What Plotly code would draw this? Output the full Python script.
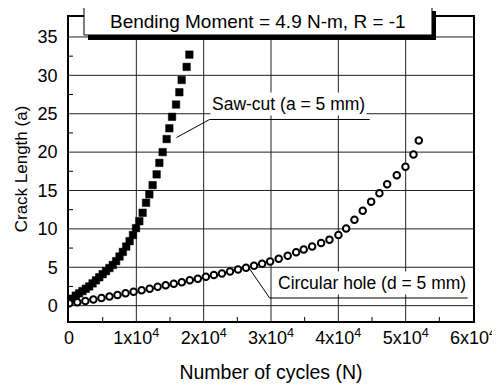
import plotly.graph_objects as go

# ---- data ----
saw_N = [0, 500, 1000, 1500, 2000, 2500, 3000, 3500, 4000, 4500, 5000, 5500, 6000,
         6500, 7000, 7500, 8000, 8500, 9000, 9500, 9955, 10446, 10936, 11441, 11932,
         12422, 13016, 13418, 13908, 14502, 14903, 15305, 15899, 16390, 16731, 17474, 17875]
saw_a = [0.5, 0.9, 1.3, 1.6, 1.9, 2.2, 2.5, 2.9, 3.3, 3.7, 4.1, 4.5, 4.9,
         5.3, 5.8, 6.4, 7.0, 7.7, 8.4, 9.2, 10.1, 11.0, 12.1, 13.4, 14.5,
         15.7, 17.1, 18.6, 20.0, 21.7, 23.1, 24.6, 26.2, 27.8, 29.4, 31.1, 32.7]

hole_N = [45, 1240, 2430, 3620, 4820, 6010, 7200, 8400, 9590, 10780, 11980, 13170,
          14360, 15560, 16750, 17940, 19130, 20330, 21520, 22710, 23910, 25100, 26290,
          27480, 28680, 29870, 31144, 32481, 33730, 34859, 36107, 37444, 38678, 40015,
          41159, 42392, 43626, 44874, 46100, 47250, 48678, 49970, 51159, 51947]
hole_a = [0.3, 0.45, 0.6, 0.8, 1.0, 1.2, 1.4, 1.6, 1.8, 2.0, 2.2, 2.45,
          2.65, 2.85, 3.05, 3.3, 3.5, 3.75, 4.0, 4.2, 4.45, 4.7, 4.95,
          5.2, 5.45, 5.75, 6.1, 6.5, 6.95, 7.3, 7.7, 8.15, 8.6, 9.2,
          10.05, 11.2, 12.35, 13.55, 14.65, 15.8, 17.0, 18.1, 19.7, 21.5]

x_tickvals = [0, 10000, 20000, 30000, 40000, 50000, 60000]
x_ticktext = ["0", "1x10<sup>4</sup>", "2x10<sup>4</sup>", "3x10<sup>4</sup>",
              "4x10<sup>4</sup>", "5x10<sup>4</sup>", "6x10<sup>4</sup>"]
y_tickvals = [0, 5, 10, 15, 20, 25, 30, 35]
x_minor = [5000, 15000, 25000, 35000, 45000, 55000]
y_minor = [2.5, 7.5, 12.5, 17.5, 22.5, 27.5, 32.5]

title_text = "Bending Moment = 4.9 N-m, R = -1"
saw_label = "Saw-cut (a = 5 mm)"
hole_label = "Circular hole (d = 5 mm)"

FONT = "Liberation Sans, Arial, sans-serif"
X_RANGE = [0, 60000]
Y_RANGE = [-2, 37.6]
PLOT_W, PLOT_H = 404, 304
MINOR_LEN = 4

fig = go.Figure()

# grid lines as a line trace behind the markers, built from the tick values
grid_x, grid_y = [], []
for v in x_tickvals[1:-1]:
    grid_x += [v, v, None]
    grid_y += [Y_RANGE[0], Y_RANGE[1], None]
for v in y_tickvals:
    grid_x += [X_RANGE[0], X_RANGE[1], None]
    grid_y += [v, v, None]
fig.add_trace(go.Scatter(
    x=grid_x, y=grid_y, mode="lines", line=dict(color="#222222", width=1),
    hoverinfo="skip", showlegend=False, connectgaps=False))

fig.add_trace(go.Scatter(
    x=saw_N, y=saw_a, mode="markers", name="Saw-cut",
    marker=dict(symbol="square", size=7.5, color="black",
                line=dict(color="black", width=0.5)),
    showlegend=False))
fig.add_trace(go.Scatter(
    x=hole_N, y=hole_a, mode="markers", name="Circular hole",
    marker=dict(symbol="circle", size=6.5, color="white",
                line=dict(color="black", width=2)),
    showlegend=False))

# minor ticks (inside) on bottom and left axes
for v in x_minor:
    fig.add_shape(type="line", xref="x", yref="paper", x0=v, x1=v,
                  y0=0, y1=MINOR_LEN / PLOT_H, line=dict(color="black", width=1))
for v in y_minor:
    fig.add_shape(type="line", xref="paper", yref="y", x0=0, x1=MINOR_LEN / PLOT_W,
                  y0=v, y1=v, line=dict(color="black", width=1))

# leader lines
fig.add_shape(type="line", xref="x", yref="y", x0=15970, y0=21.9, x1=20880, y1=24.25,
              line=dict(color="black", width=1), layer="above")
fig.add_shape(type="line", xref="x", yref="y", x0=20880, y0=24.25, x1=44650, y1=24.25,
              line=dict(color="black", width=1), layer="above")
fig.add_shape(type="line", xref="x", yref="y", x0=26570, y0=5.12, x1=29790, y1=1.0,
              line=dict(color="black", width=1), layer="above")
fig.add_shape(type="line", xref="x", yref="y", x0=29790, y0=1.0, x1=59210, y1=1.0,
              line=dict(color="black", width=1), layer="above")

# title box with drop shadow
fig.add_shape(type="rect", xref="paper", yref="paper", x0=0.047, x1=0.9084,
              y0=0.9243, y1=1.0197, fillcolor="black", line=dict(width=0), layer="above")
fig.add_shape(type="rect", xref="paper", yref="paper", x0=0.0371, x1=0.8985,
              y0=0.9408, y1=1.0329, fillcolor="white",
              line=dict(color="black", width=1), layer="above")

fig.add_annotation(x=0.4678, y=0.9868, xref="paper", yref="paper", text=title_text,
                   showarrow=False, font=dict(family=FONT, size=19, color="black"),
                   xanchor="center", yanchor="middle")
fig.add_annotation(x=32610, y=26.3, xref="x", yref="y", text=saw_label,
                   showarrow=False, bgcolor="white", borderpad=1,
                   font=dict(family=FONT, size=17.5, color="black"),
                   xanchor="center", yanchor="middle")
fig.add_annotation(x=45020, y=3.0, xref="x", yref="y", text=hole_label,
                   showarrow=False, bgcolor="white", borderpad=1,
                   font=dict(family=FONT, size=17.5, color="black"),
                   xanchor="center", yanchor="middle")

axis_common = dict(
    automargin=False,
    showgrid=False,
    showline=True, linecolor="black", linewidth=1.5, mirror=True,
    ticks="", zeroline=False,
    tickfont=dict(family=FONT, size=18, color="black"),
)

fig.update_layout(
    width=500, height=385,
    margin=dict(l=61, r=35, t=9, b=72, autoexpand=False),
    plot_bgcolor="white", paper_bgcolor="white",
    font=dict(family=FONT, color="black"),
    xaxis=dict(range=X_RANGE, tickmode="array", tickvals=x_tickvals, ticktext=x_ticktext,
               title=dict(text="Number of cycles (N)",
                          font=dict(family=FONT, size=19.5, color="black"), standoff=18),
               **axis_common),
    yaxis=dict(range=Y_RANGE, tickmode="array", tickvals=y_tickvals,
               ticklabelstandoff=6,
               title=dict(text="Crack Length (a)",
                          font=dict(family=FONT, size=17, color="black"), standoff=6),
               **axis_common),
)

fig.write_html("out.html")
